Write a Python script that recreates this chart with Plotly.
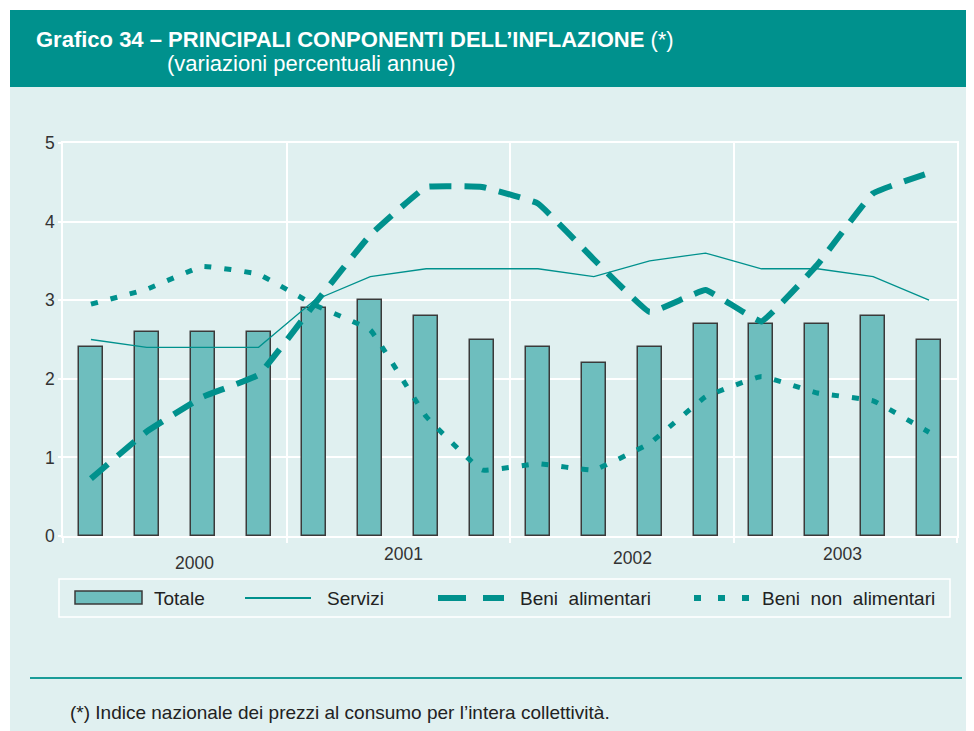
import plotly.graph_objects as go

# ---- data ----
quarters = ["2000T1", "2000T2", "2000T3", "2000T4",
            "2001T1", "2001T2", "2001T3", "2001T4",
            "2002T1", "2002T2", "2002T3", "2002T4",
            "2003T1", "2003T2", "2003T3", "2003T4"]
totale = [2.4, 2.6, 2.6, 2.6, 2.9, 3.0, 2.8, 2.5, 2.4, 2.2, 2.4, 2.7, 2.7, 2.7, 2.8, 2.5]
servizi = [2.5, 2.4, 2.4, 2.4, 3.0, 3.3, 3.4, 3.4, 3.4, 3.3, 3.5, 3.6, 3.4, 3.4, 3.3, 3.0]
beni_alimentari = [0.73, 1.33, 1.77, 2.05, 2.95, 3.83, 4.44, 4.44, 4.23, 3.52, 2.85, 3.13, 2.73, 3.45, 4.36, 4.62]
beni_non_alimentari = [2.95, 3.14, 3.43, 3.33, 2.94, 2.62, 1.52, 0.84, 0.92, 0.84, 1.18, 1.77, 2.03, 1.82, 1.72, 1.32]
years = ["2000", "2001", "2002", "2003"]
year_label_pos = [2.35, 6.1, 10.2, 13.95]
year_label_dy = [27, 18, 22, 18]

TEAL = "#00918D"
BAR = "#6EBEBE"
BG = "#E0F0F0"
NARROW = "Liberation Sans Narrow, Arial Narrow, Liberation Sans, Arial, sans-serif"
SANS = "Liberation Sans, Arial, Helvetica, sans-serif"

OFF = 8  # page body margin
PW, PH = 974, 731
W, H = PW - OFF, PH - OFF
# plot area in page pixels
L, R, T, B = 63, 957, 143, 536

def fx(px):
    return (px - L) / (R - L)

def fy(py):
    return (B - py) / (B - T)

xpos = [i + 0.5 for i in range(len(quarters))]

fig = go.Figure()
fig.add_trace(go.Bar(x=xpos, y=totale, width=0.43, name="Totale",
                     marker=dict(color=BAR, line=dict(color="#3A3A3A", width=1.5)),
                     hovertext=quarters))
fig.add_trace(go.Scatter(x=xpos, y=servizi, mode="lines", name="Servizi",
                         line=dict(color=TEAL, width=1.3), hovertext=quarters))
fig.add_trace(go.Scatter(x=xpos, y=beni_alimentari, mode="lines", name="Beni alimentari",
                         line=dict(color=TEAL, width=6, dash="22px,13px", shape="spline", smoothing=0.25),
                         hovertext=quarters))
fig.add_trace(go.Scatter(x=xpos, y=beni_non_alimentari, mode="lines", name="Beni non alimentari",
                         line=dict(color=TEAL, width=5, dash="7px,13px", shape="spline", smoothing=0.25),
                         hovertext=quarters))

shapes = []
annotations = []
# backgrounds
shapes.append(dict(type="rect", xref="paper", yref="paper", x0=fx(10), x1=fx(PW + 5), y0=fy(PH + 5), y1=fy(87),
                   fillcolor=BG, line=dict(width=0), layer="below"))
shapes.append(dict(type="rect", xref="paper", yref="paper", x0=fx(10), x1=fx(PW + 5), y0=fy(87), y1=fy(10),
                   fillcolor=TEAL, line=dict(width=0), layer="below"))
# title
annotations.append(dict(xref="paper", yref="paper", x=fx(34), y=fy(39), xanchor="left", yanchor="middle",
                        showarrow=False,
                        text="<b>Grafico 34 – PRINCIPALI CONPONENTI DELL’INFLAZIONE</b> (*)",
                        font=dict(family=NARROW, size=22, color="white")))
annotations.append(dict(xref="paper", yref="paper", x=fx(165), y=fy(64), xanchor="left", yanchor="middle",
                        showarrow=False, text="(variazioni percentuali annue)",
                        font=dict(family=NARROW, size=22, color="white")))
# year labels
for yl, xp, dy in zip(years, year_label_pos, year_label_dy):
    annotations.append(dict(xref="x", yref="paper", x=xp, y=fy(B + dy), xanchor="center", yanchor="middle",
                            showarrow=False, text=yl, font=dict(family=SANS, size=17.5, color="#333333")))
# legend box
shapes.append(dict(type="rect", xref="paper", yref="paper", x0=fx(59), x1=fx(950), y0=fy(617), y1=fy(579),
                   fillcolor="rgba(0,0,0,0)", line=dict(color="white", width=1.5)))
ly = 598
shapes.append(dict(type="rect", xref="paper", yref="paper", x0=fx(75), x1=fx(142), y0=fy(604), y1=fy(591),
                   fillcolor=BAR, line=dict(color="#3A3A3A", width=1.5)))
shapes.append(dict(type="line", xref="paper", yref="paper", x0=fx(245), x1=fx(311), y0=fy(ly), y1=fy(ly),
                   line=dict(color=TEAL, width=2)))
shapes.append(dict(type="line", xref="paper", yref="paper", x0=fx(438), x1=fx(504), y0=fy(ly), y1=fy(ly),
                   line=dict(color=TEAL, width=6, dash="28px,17px")))
shapes.append(dict(type="line", xref="paper", yref="paper", x0=fx(694), x1=fx(751), y0=fy(ly), y1=fy(ly),
                   line=dict(color=TEAL, width=6, dash="7px,17px")))
leg_items = [("Totale", 152), ("Servizi", 325), ("Beni  alimentari", 518), ("Beni  non  alimentari", 760)]
for txt, xp in leg_items:
    annotations.append(dict(xref="paper", yref="paper", x=fx(xp), y=fy(ly), xanchor="left", yanchor="middle",
                            showarrow=False, text=txt.replace("  ", "&nbsp; "),
                            font=dict(family=NARROW, size=19, color="#222222")))
# separator line and footnote
shapes.append(dict(type="line", xref="paper", yref="paper", x0=fx(30), x1=fx(962), y0=fy(678), y1=fy(678),
                   line=dict(color="#1A9C98", width=2)))
annotations.append(dict(xref="paper", yref="paper", x=fx(68), y=fy(712), xanchor="left", yanchor="middle",
                        showarrow=False,
                        text="(*) Indice nazionale dei prezzi al consumo per l’intera collettività.",
                        font=dict(family=NARROW, size=19, color="#222222")))

fig.update_layout(
    width=W, height=H,
    margin=dict(l=L - OFF, r=PW - R, t=T - OFF, b=PH - B, pad=0),
    paper_bgcolor="white", plot_bgcolor=BG,
    showlegend=False,
    shapes=shapes, annotations=annotations,
    bargap=0,
)
fig.update_xaxes(range=[0, 16], tickvals=[0, 4, 8, 12, 16], showticklabels=False,
                 showgrid=True, gridcolor="white", gridwidth=1.5,
                 showline=True, linecolor="white", linewidth=1.5, mirror=True,
                 ticks="outside", ticklen=5, tickcolor="white", tickwidth=1.5, zeroline=False, fixedrange=True)
fig.update_yaxes(range=[0, 5], dtick=1, showgrid=True, gridcolor="white", gridwidth=1.5,
                 showline=True, linecolor="white", linewidth=1.5, mirror=True,
                 ticks="outside", ticklen=3, tickcolor="white", tickwidth=1.5, zeroline=False,
                 tickfont=dict(family=SANS, size=17.5, color="#333333"), fixedrange=True)

fig.write_html("out.html")
